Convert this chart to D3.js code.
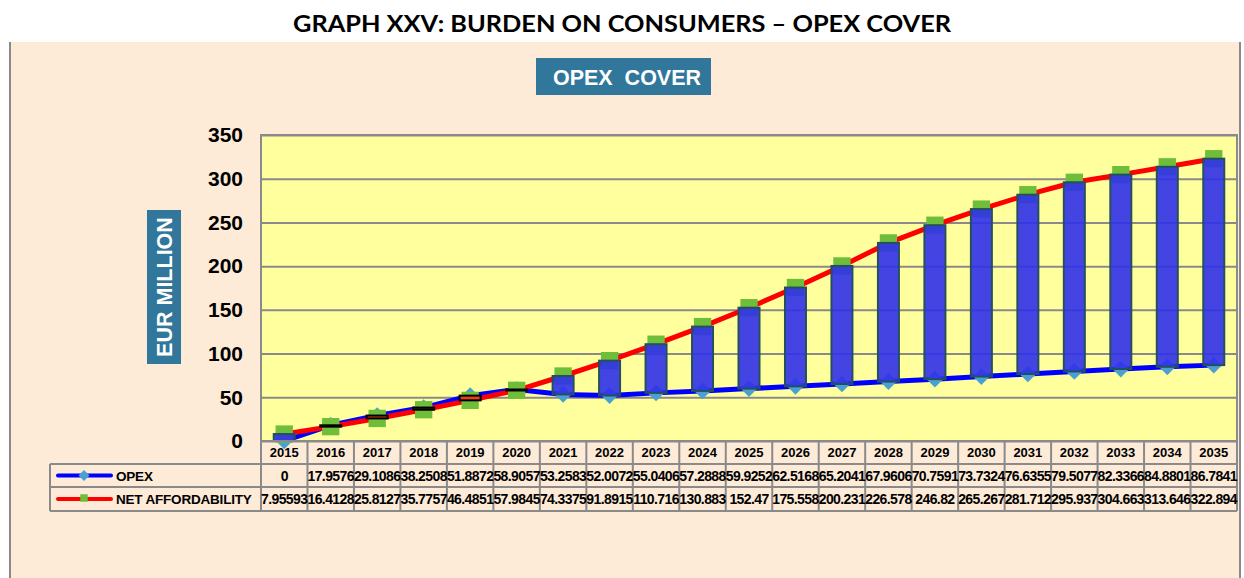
<!DOCTYPE html>
<html>
<head>
<meta charset="utf-8">
<script src="https://cdn.jsdelivr.net/npm/d3@7"></script>
<style>
  body { margin: 0; background: #fff; }
  svg text { font-family: "Liberation Sans", Arial, sans-serif; }
</style>
</head>
<body>
<div id="chart"></div>
<script>
// data
const years = ["2015", "2016", "2017", "2018", "2019", "2020", "2021", "2022", "2023", "2024", "2025",
    "2026", "2027", "2028", "2029", "2030", "2031", "2032", "2033", "2034", "2035"];
const opex = [0, 17.9576, 29.1086, 38.2508, 51.8872, 58.9057, 53.2583, 52.0072, 55.0406, 57.2888, 59.9252,
    62.5168, 65.2041, 67.9606, 70.7591, 73.7324, 76.6355, 79.5077, 82.3366, 84.8801, 86.7841];
const netAffordability = [7.95593, 16.4128, 25.8127, 35.7757, 46.4851, 57.9845, 74.3375, 91.8915, 110.716, 130.883, 152.47,
    175.558, 200.231, 226.578, 246.82, 265.267, 281.712, 295.937, 304.663, 313.646, 322.894];
const yTicks = [0, 50, 100, 150, 200, 250, 300, 350];
const seriesNames = ["OPEX", "NET AFFORDABILITY"];

const W = 1244, H = 578;
const plot = { left: 261, right: 1237, top: 135, bottom: 441 };
const rowH = [23, 23, 24]; // header, opex, net

const svg = d3.select("#chart").append("svg")
    .attr("width", W).attr("height", H);

svg.append("rect").attr("width", W).attr("height", H).attr("fill", "#fff");

// chart area background
svg.append("rect")
    .attr("x", 10).attr("y", 42).attr("width", 1230).attr("height", H - 42)
    .attr("fill", "#fdebd7");
svg.append("line").attr("x1", 10).attr("x2", 10).attr("y1", 42).attr("y2", H)
    .attr("stroke", "#8a8a8a").attr("stroke-width", 2);
svg.append("line").attr("x1", 1240).attr("x2", 1240).attr("y1", 42).attr("y2", H)
    .attr("stroke", "#8a8a8a").attr("stroke-width", 2);

// title
svg.append("text")
    .attr("x", 622).attr("y", 32)
    .attr("text-anchor", "middle")
    .style("font-family", "Lato, 'Open Sans', sans-serif")
    .style("font-weight", "bold").style("font-size", "23px")
    .attr("textLength", 658).attr("lengthAdjust", "spacingAndGlyphs")
    .text("GRAPH XXV: BURDEN ON CONSUMERS \u2013 OPEX COVER");

// chart title box
svg.append("rect").attr("x", 536).attr("y", 58).attr("width", 175).attr("height", 37)
    .attr("fill", "#31769b");
svg.append("text")
    .attr("x", 627).attr("y", 85).attr("text-anchor", "middle")
    .attr("fill", "#fff").style("font-weight", "bold").style("font-size", "22px")
    .attr("textLength", 148).attr("lengthAdjust", "spacingAndGlyphs")
    .style("white-space", "pre")
    .text("OPEX  COVER");

// scales
const x = d3.scaleBand().domain(years).range([plot.left, plot.right]).padding(0);
const y = d3.scaleLinear().domain([0, 350]).range([plot.bottom, plot.top]);
const cx = d => x(d) + x.bandwidth() / 2;

// plot background
svg.append("rect")
    .attr("x", plot.left).attr("y", plot.top)
    .attr("width", plot.right - plot.left).attr("height", plot.bottom - plot.top)
    .attr("fill", "#ffff9e");

// grid lines
svg.append("g")
    .attr("transform", `translate(${plot.left},0)`)
    .call(d3.axisLeft(y).tickValues(yTicks).tickSize(-(plot.right - plot.left)).tickFormat(""))
    .call(g => g.select(".domain").remove())
    .call(g => g.selectAll(".tick line").attr("stroke", "#8a8a8a").attr("stroke-width", 2));

// plot frame
svg.append("rect")
    .attr("x", plot.left).attr("y", plot.top)
    .attr("width", plot.right - plot.left).attr("height", plot.bottom - plot.top)
    .attr("fill", "none").attr("stroke", "#8a8a8a").attr("stroke-width", 2);

// y tick labels
svg.append("g")
    .attr("transform", `translate(243,0)`)
    .call(d3.axisLeft(y).tickValues(yTicks).tickSize(0).tickPadding(0))
    .call(g => g.select(".domain").remove())
    .call(g => g.selectAll(".tick text")
        .attr("fill", "#000")
        .style("font-family", "'Liberation Sans', Arial, sans-serif")
        .style("font-weight", "bold").style("font-size", "21px"));

// y axis title box
svg.append("rect").attr("x", 147).attr("y", 210).attr("width", 34).attr("height", 154)
    .attr("fill", "#31769b");
svg.append("text")
    .attr("transform", "translate(172,287) rotate(-90)")
    .attr("text-anchor", "middle")
    .attr("fill", "#fff").style("font-weight", "bold").style("font-size", "21.5px")
    .text("EUR MILLION");

// lines
const lineOpex = d3.line().x((d, i) => cx(years[i])).y(d => y(d));
svg.append("path").datum(opex)
    .attr("d", lineOpex).attr("fill", "none")
    .attr("stroke", "#0000ff").attr("stroke-width", 5).attr("stroke-linejoin", "round");
svg.append("path").datum(netAffordability)
    .attr("d", lineOpex).attr("fill", "none")
    .attr("stroke", "#ff0000").attr("stroke-width", 5).attr("stroke-linejoin", "round");

// markers
const diamond = d3.symbol().type(d3.symbolSquare).size(140);
const square = d3.symbol().type(d3.symbolSquare).size(300);

svg.selectAll(".opex-marker")
    .data(opex)
    .enter()
    .append("path")
    .attr("class", "opex-marker")
    .attr("d", diamond)
    .attr("transform", (d, i) => `translate(${cx(years[i])},${y(d)}) rotate(45)`)
    .attr("fill", "#4ba0d2");

svg.selectAll(".net-marker")
    .data(netAffordability)
    .enter()
    .append("path")
    .attr("class", "net-marker")
    .attr("d", square)
    .attr("transform", (d, i) => `translate(${cx(years[i])},${y(d)})`)
    .attr("fill", "#6fbe3a");

// up / down bars between the two series
const barW = 21;
svg.selectAll(".updown")
    .data(years)
    .enter()
    .append("rect")
    .attr("class", "updown")
    .attr("x", d => cx(d) - barW / 2)
    .attr("y", (d, i) => y(Math.max(opex[i], netAffordability[i])))
    .attr("width", barW)
    .attr("height", (d, i) => Math.max(1, Math.abs(y(opex[i]) - y(netAffordability[i]))))
    .attr("fill", (d, i) => netAffordability[i] >= opex[i] ? "#3030ea" : "#e8401c")
    .attr("fill-opacity", (d, i) => netAffordability[i] >= opex[i] ? 0.9 : 1)
    .attr("stroke", (d, i) => netAffordability[i] >= opex[i] ? "#24505e" : "#000")
    .attr("stroke-width", 2);

// data table
const tTop = plot.bottom;
const r1 = tTop + rowH[0], r2 = r1 + rowH[1], r3 = r2 + rowH[2];
const table = svg.append("g");
const gridStroke = g => g.attr("stroke", "#8a8a8a").attr("stroke-width", 2);

// horizontal rules
table.append("line").attr("x1", plot.left).attr("x2", plot.right).attr("y1", tTop).attr("y2", tTop).call(gridStroke);
[r1, r2, r3].forEach(yy => {
    table.append("line").attr("x1", 50).attr("x2", plot.right).attr("y1", yy).attr("y2", yy).call(gridStroke);
});
// vertical rules
years.forEach(d => {
    table.append("line").attr("x1", x(d)).attr("x2", x(d)).attr("y1", tTop).attr("y2", r3).call(gridStroke);
});
table.append("line").attr("x1", plot.right).attr("x2", plot.right).attr("y1", tTop).attr("y2", r3).call(gridStroke);
table.append("line").attr("x1", 50).attr("x2", 50).attr("y1", r1).attr("y2", r3).call(gridStroke);

// year labels
table.selectAll(".year")
    .data(years)
    .enter()
    .append("text")
    .attr("class", "year")
    .attr("x", d => cx(d)).attr("y", tTop + 16)
    .attr("text-anchor", "middle")
    .style("font-weight", "bold").style("font-size", "13px")
    .text(d => d);

const fmt = d3.format(".6~g");
[[opex, r1], [netAffordability, r2]].forEach(([vals, top]) => {
    table.selectAll(null)
        .data(vals)
        .enter()
        .append("text")
        .attr("x", (d, i) => cx(years[i])).attr("y", top + 17)
        .attr("text-anchor", "middle")
        .style("font-weight", "bold").style("font-size", "14px")
        .style("letter-spacing", "-0.6px")
        .text(d => fmt(d));
});

// legend keys inside the table
const keyY = [r1 + rowH[1] / 2, r2 + rowH[2] / 2];
table.append("line").attr("x1", 58).attr("x2", 111).attr("y1", keyY[0]).attr("y2", keyY[0])
    .attr("stroke", "#0000ff").attr("stroke-width", 4).attr("stroke-linecap", "round");
table.append("path").attr("d", d3.symbol().type(d3.symbolSquare).size(60))
    .attr("transform", `translate(84,${keyY[0]}) rotate(45)`).attr("fill", "#4ba0d2");
table.append("line").attr("x1", 58).attr("x2", 111).attr("y1", keyY[1]).attr("y2", keyY[1])
    .attr("stroke", "#ff0000").attr("stroke-width", 4).attr("stroke-linecap", "round");
table.append("path").attr("d", d3.symbol().type(d3.symbolSquare).size(56))
    .attr("transform", `translate(84,${keyY[1] - 1})`).attr("fill", "#6fbe3a");

table.selectAll(".legend-text")
    .data(seriesNames)
    .enter()
    .append("text")
    .attr("class", "legend-text")
    .attr("x", 116).attr("y", (d, i) => keyY[i] + 5)
    .style("font-weight", "bold").style("font-size", "13.5px")
    .style("letter-spacing", "-0.2px")
    .text(d => d);
</script>
</body>
</html>
